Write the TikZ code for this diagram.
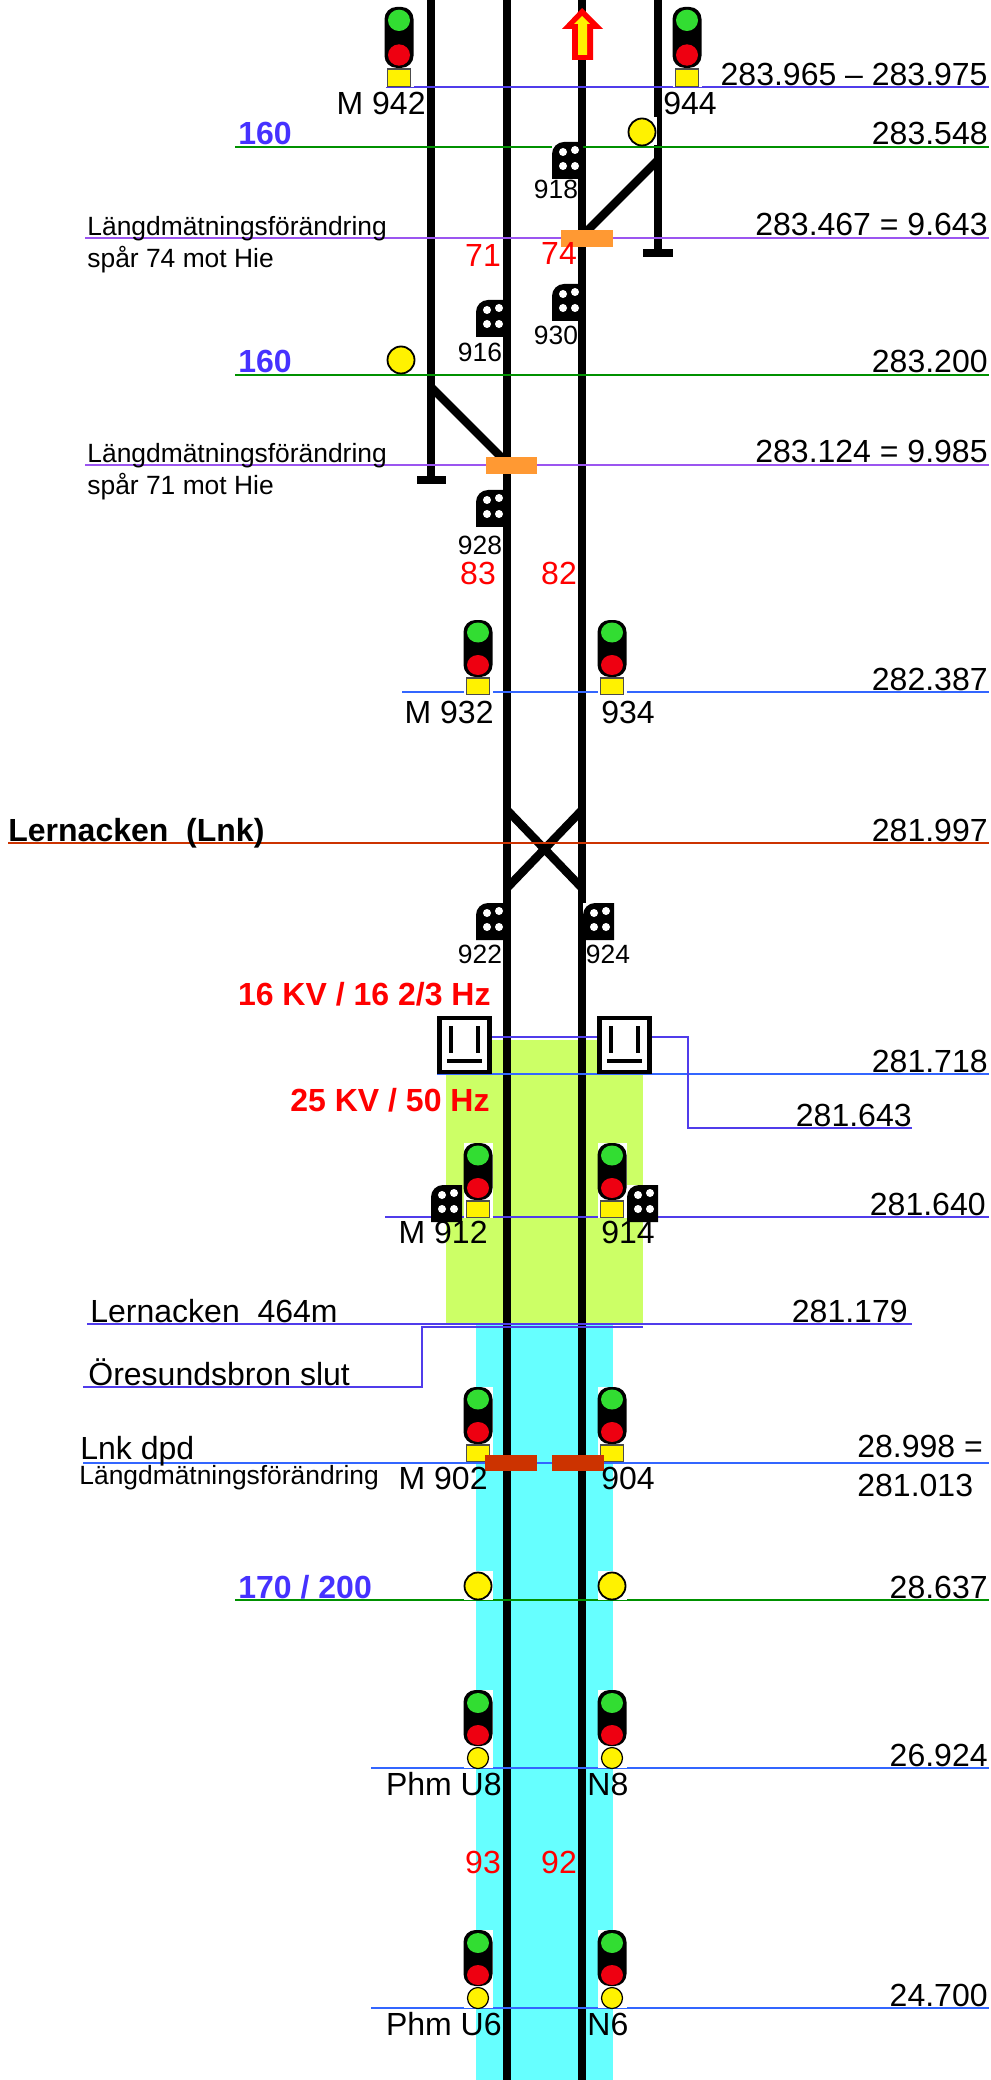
\documentclass[tikz,border=0pt]{standalone}
\usepackage{fontspec}
\setmainfont{Liberation Sans}
\usepackage{xcolor}
\usetikzlibrary{positioning}
\definecolor{zonegreen}{RGB}{204,255,102}
\definecolor{zonecyan}{RGB}{102,255,255}
\definecolor{kmblue}{RGB}{80,60,235}
\definecolor{kmblue2}{RGB}{51,102,255}
\definecolor{kmgreen}{RGB}{0,145,0}
\definecolor{kmpurple}{RGB}{155,85,240}
\definecolor{kmred}{RGB}{204,51,0}
\definecolor{speedblue}{RGB}{70,50,255}
\definecolor{lampgreen}{RGB}{50,221,50}
\definecolor{lampred}{RGB}{238,0,17}
\definecolor{jointorange}{RGB}{255,153,51}

\begin{document}
\begin{tikzpicture}[x=0.5pt,y=-0.5pt,
  track/.style={line width=4.2pt, black},
  km/.style={line width=1pt},
  txt/.style={inner sep=0pt, font=\fontsize{16}{16}\selectfont},
  small/.style={inner sep=0pt, font=\fontsize{13.2}{13.2}\selectfont},
  spd/.style={inner sep=0pt, anchor=base west, text=speedblue, font=\fontsize{16}{16}\selectfont\bfseries},
  volt/.style={inner sep=0pt, anchor=base east, text=red, font=\fontsize{16}{16}\selectfont\bfseries},
  trk/.style={txt, anchor=base, text=red},
  sigmain/.pic={
    \fill[white] (-14.5,0) rectangle (14.5,75);
    \fill[black, rounded corners=6pt] (-14.5,0) rectangle (14.5,57);
    \fill[lampgreen] (0,12.5) ellipse [x radius=11, y radius=10];
    \fill[lampred] (0,45) ellipse [x radius=11, y radius=10];
    \draw[fill=yellow, draw=black!70, line width=0.9pt] (-11.5,58) rectangle (11.5,74.5);
  },
  sigphm/.pic={
    \fill[white] (-14.5,0) rectangle (14.5,78);
    \fill[black, rounded corners=6pt] (-14.5,0) rectangle (14.5,56);
    \fill[lampgreen] (0,13) ellipse [x radius=11, y radius=10];
    \fill[lampred] (0,45) ellipse [x radius=11, y radius=10];
    \draw[fill=yellow, draw=black, line width=0.6pt] (0,68) circle (10.5);
  },
  dwarf/.pic={
    \fill[white] (0,0) rectangle (31,37);
    \fill[black] (0,37) [rounded corners=6pt] -- (0,0) [sharp corners] -- (31,0) -- (31,37) -- cycle;
    \foreach \dx/\dy in {11/10,23/8,11/24,23/24} \fill[white] (\dx,\dy) circle (4);
  },
  lamp/.pic={
    \fill[white] (-14.5,-15) rectangle (14.5,13.5);
    \draw[fill=yellow, draw=black, line width=0.9pt] (0,0) circle (13.5);
  },
  catbox/.pic={
    \draw[fill=white, draw=black, line width=2.2pt] (0,0) rectangle (50,54);
    \draw[black, line width=2pt] (11.5,8) -- (11.5,35) (38.5,8) -- (38.5,35) (7.5,43) -- (42.5,43);
  }]
\useasboundingbox (0,0) rectangle (990,2080);
% zones
\fill[zonegreen] (446,1040) rectangle (643,1324);
\fill[zonecyan] (476,1324) rectangle (613,2080);
% tracks
\foreach \tx/\ty in {431/480,507/2080,582/2080,658/253} \draw[track] (\tx,0) -- (\tx,\ty);
\draw[track] (417,480) -- (446,480);
\draw[track] (643,253) -- (673,253);
\draw[track] (658,160) -- (586,232);
\draw[track] (431,387) -- (502,458);
\draw[track] (507,810) -- (582,888);
\draw[track] (582,810) -- (507,888);
% km lines
\foreach \ly/\lx/\lc in {87/386/kmblue,147.5/235/kmgreen,238/85/kmpurple,375/235/kmgreen,465/85/kmpurple,692/402/kmblue2,843/8/kmred,1074/437/kmblue2,1217/385/kmblue,1463/83/kmblue2,1600/235/kmgreen,1768/371/kmblue2,2008/371/kmblue2}
  \draw[km, \lc] (\lx,\ly) -- (988.5,\ly);
\draw[km, kmblue] (87,1324) -- (912,1324);
\draw[km, kmblue] (83,1387) -- (422,1387) -- (422,1326.5) -- (643,1326.5);
\draw[km, kmblue] (490,1037) -- (688,1037) -- (688,1128) -- (912,1128);
% direction arrow
\fill[red] (582,8) -- (603,29) -- (593,29) -- (593,60) -- (572,60) -- (572,29) -- (562,29) -- cycle;
\fill[yellow] (582,16) -- (590,24) -- (587,24) -- (587,55) -- (578,55) -- (578,24) -- (574,24) -- cycle;
% signals
\pic[yscale=1.067] at (399,7) {sigmain};
\pic[yscale=1.067] at (687,7) {sigmain};
\foreach \sx/\sy in {478/620,612/620,478/1143,612/1143,478/1387,612/1387} \pic at (\sx,\sy) {sigmain};
\foreach \sx/\sy in {478/1690,612/1690,478/1930,612/1930} \pic at (\sx,\sy) {sigphm};
\foreach \sx/\sy in {552/142,552/284,476/300,476/490,476/903,583/903,431/1185,627/1185} \pic at (\sx,\sy) {dwarf};
\foreach \sx/\sy in {642/132,401/360,478/1586,612/1586} \pic at (\sx,\sy) {lamp};
\pic at (439.5,1018) {catbox};
\pic at (599.5,1018) {catbox};
% joints
\fill[jointorange] (561,230) rectangle (613,247);
\fill[jointorange] (486,457) rectangle (537,474);
\fill[kmred] (485,1455) rectangle (537,1471);
\fill[kmred] (552,1455) rectangle (604,1471);
% right hand km values
\node[txt, anchor=base east] (k1) at (988,86) {283.965 – 283.975};
\node[txt, anchor=base east] (k2) at (988,145) {283.548};
\node[txt, anchor=base east] (k3) at (988,236) {283.467 = 9.643};
\node[txt, anchor=base east] (k4) at (988,373) {283.200};
\node[txt, anchor=base east] (k5) at (988,463) {283.124 = 9.985};
\node[txt, anchor=base east] (k6) at (988,690) {282.387};
\node[txt, anchor=base east] (k7) at (988,841) {281.997};
\node[txt, anchor=base east] (k8) at (988,1072) {281.718};
\node[txt, anchor=base east] (k9) at (912,1126) {281.643};
\node[txt, anchor=base east] (k10) at (986,1215) {281.640};
\node[txt, anchor=base east] (k11) at (908,1322) {281.179};
\node[txt, anchor=base west] (k12) at (857,1457) {28.998 =};
\node[txt, anchor=base west] (k13) at (857,1496) {281.013};
\node[txt, anchor=base east] (k14) at (988,1598) {28.637};
\node[txt, anchor=base east] (k15) at (988,1766) {26.924};
\node[txt, anchor=base east] (k16) at (988,2006) {24.700};
% left hand texts
\node[small, anchor=base west] (m1) at (87,236) {Längdmätningsförändring};
\node[small, anchor=base west] (m2) at (87,268) {spår 74 mot Hie};
\node[small, anchor=base west] (m3) at (87,463) {Längdmätningsförändring};
\node[small, anchor=base west] (m4) at (87,495) {spår 71 mot Hie};
\node[spd] (v1) at (238,145) {160};
\node[spd] (v2) at (238,373) {160};
\node[spd] (v3) at (238,1598) {170 / 200};
\node[txt, anchor=base west, font=\fontsize{16}{16}\selectfont\bfseries] (st) at (8,841) {Lernacken\ \ (Lnk)};
\node[volt] (e1) at (491,1005) {16 KV / 16 2/3 Hz};
\node[volt] (e2) at (490,1111) {25 KV / 50 Hz};
\node[txt, anchor=base west] (p1) at (90,1322) {Lernacken\ \ 464m};
\node[txt, anchor=base west] (p2) at (88,1385) {Öresundsbron slut};
\node[txt, anchor=base west] (p3) at (80,1459) {Lnk dpd};
\node[small, anchor=base west] (p4) at (79,1484) {Längdmätningsförändring};
% signal names
\foreach \nm/\nx/\ny/\ntxt in {a/426/115/M 942,b/494/723/M 932,c/488/1243/M 912,d/488/1489/M 902,e/502/1795/Phm U8,f/502/2035/Phm U6}
  \node[txt, anchor=base east] (s\nm) at (\nx,\ny) {\ntxt};
\foreach \nm/\nx/\ny/\ntxt in {g/663/115/944,h/601/723/934,i/601/1243/914,j/601/1489/904,k/587/1795/N8,l/587/2035/N6}
  \node[txt, anchor=base west] (s\nm) at (\nx,\ny) {\ntxt};
\foreach \nm/\nx/\ny in {918/556/199,916/480/362,930/556/345,928/480/555,922/480/963,924/608/963}
  \node[small, anchor=base] (d\nm) at (\nx,\ny) {\nm};
% track numbers
\foreach \nm/\nx/\ny in {71/483/267,74/559/265,83/478/584,82/559/584,93/483/1873,92/559/1873}
  \node[trk] (t\nm) at (\nx,\ny) {\nm};
\end{tikzpicture}
\end{document}
